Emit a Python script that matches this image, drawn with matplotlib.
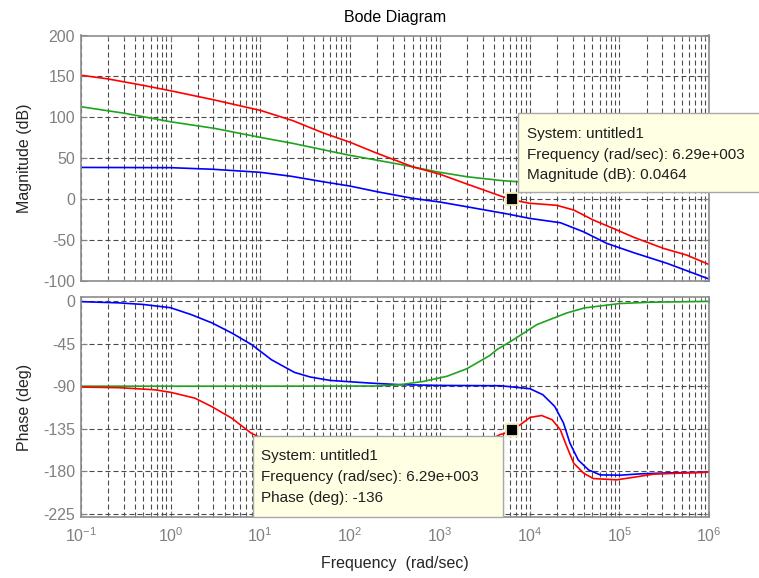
import numpy as np
import matplotlib
matplotlib.use("Agg")
import matplotlib.pyplot as plt
from matplotlib.patches import Rectangle
from matplotlib.ticker import LogLocator, NullFormatter

plt.rcParams["font.family"] = ["Liberation Sans", "DejaVu Sans"]
plt.rcParams["mathtext.default"] = "regular"
plt.rcParams["axes.unicode_minus"] = False

# ---- data (rad/sec, dB, deg) ----
blue_w_mag = [0.1, 1, 3, 10, 22, 50, 100, 200, 500, 1000, 2000, 5600,
              10000, 22000, 40000, 72000, 1.45e5, 3.4e5, 1e6]
blue_mag = [38.8, 38.5, 36.5, 32.8, 28, 21.3, 16, 9.1, 1, -3.5, -9.3, -18,
            -23.5, -28.8, -40, -54, -65.5, -78.5, -97.7]

green_w_mag = [0.1, 0.31, 1, 3.1, 10, 23, 95, 360, 920, 2000, 5100, 7400,
               20000, 1e5, 1e6]
green_mag = [113, 104.9, 94.6, 86.5, 75.5, 68.2, 54, 42.5, 33.5, 27.4, 22.5,
             21.3, 20.5, 20.3, 20.3]

red_w_mag = [0.1, 0.2, 0.5, 1, 3, 10, 23, 50, 100, 200, 500, 1000, 2000,
             5000, 6290, 8000, 10000, 20000, 31000, 51000, 85000, 1.45e5,
             3.1e5, 5.6e5, 1e6]
red_mag = [151.5, 147, 139, 132.5, 121.5, 108.5, 96, 81, 69.5, 56, 39.5,
           30.5, 18.5, 3, 0.0464, -3, -5, -7.5, -13.3, -25.5, -35.7, -46.7,
           -60.2, -68.3, -80]

blue_w_ph = [0.1, 0.27, 0.5, 1.0, 1.7, 2.9, 4.8, 8, 13.3, 24, 36, 60, 166,
             360, 1000, 4700, 10100, 14000, 19000, 23800, 28000, 34700,
             45200, 61000, 1.02e5, 1.7e5, 3.4e5, 1e6]
blue_ph = [-0.6, -1.9, -3.6, -7, -14.3, -23.1, -33.7, -46, -62, -75.4, -80.3,
           -83.9, -86.7, -88.4, -89.2, -89.5, -92.7, -99, -111.4, -129, -150,
           -168, -178.5, -183.8, -184.1, -182.7, -181.7, -180.9]

green_w_ph = [0.1, 10, 200, 360, 650, 1200, 2000, 3600, 4300, 6600, 12000,
              26000, 41000, 1e5, 2.2e5, 1e6]
green_ph = [-90, -90, -89.8, -88.4, -85, -79.5, -71.5, -57.5, -51.4, -40.8,
            -24.9, -12.5, -7.2, -2.6, -1.2, -0.3]

red_w_ph = [0.1, 0.27, 0.67, 1.02, 1.86, 2.86, 4.8, 7.9, 12.6, 20, 32, 63,
            160, 320, 800, 1600, 3200, 4700, 5100, 6290, 7840, 10100, 13600,
            17800, 21900, 25900, 30900, 39800, 51300, 93300, 1.44e5, 2.4e5,
            5.6e5, 1e6]
red_ph = [-90.9, -91.6, -93.8, -96.6, -102.6, -111.4, -123.8, -139.6, -149,
          -161, -169, -174, -177, -178, -172, -161.5, -149.5, -141, -140.4,
          -136, -130.8, -123, -121, -125.5, -136, -153.8, -171.4, -182,
          -187.7, -189, -186.3, -183, -181.7, -180.9]

tip_w = 6290
tip_mag = 0.0464
tip_ph = -136
tip_mag_lines = ["System: untitled1", "Frequency (rad/sec): 6.29e+003",
                 "Magnitude (dB): 0.0464"]
tip_ph_lines = ["System: untitled1", "Frequency (rad/sec): 6.29e+003",
                "Phase (deg): -136"]

mag_ticks = [-100, -50, 0, 50, 100, 150, 200]
ph_ticks = [-225, -180, -135, -90, -45, 0]

# ---- figure ----
W, H = 759, 578
fig = plt.figure(figsize=(W / 100, H / 100), dpi=100)


def box(x0, y0, x1, y1):
    # pixel box (top-left origin) -> figure fraction rect
    return [x0 / W, 1 - y1 / H, (x1 - x0) / W, (y1 - y0) / H]


ax_mag = fig.add_axes(box(80.7, 35.5, 709.3, 281))
ax_ph = fig.add_axes(box(80.7, 297.3, 709.3, 516.7))

ax_mag.plot(blue_w_mag, blue_mag, color="#0000ff", lw=1.2)
ax_mag.plot(green_w_mag, green_mag, color="#1fa31f", lw=1.2)
ax_mag.plot(red_w_mag, red_mag, color="#ff0000", lw=1.2)

ax_ph.plot(blue_w_ph, blue_ph, color="#0000ff", lw=1.2)
ax_ph.plot(green_w_ph, green_ph, color="#1fa31f", lw=1.2)
ax_ph.plot(red_w_ph, red_ph, color="#ff0000", lw=1.2)

grid_kw = dict(color="#4a4a4a", lw=0.8, ls=(0, (4.5, 2.7)))
for ax in (ax_mag, ax_ph):
    ax.set_xscale("log")
    ax.set_xlim(0.1, 1e6)
    ax.xaxis.set_major_locator(LogLocator(base=10, numticks=20))
    ax.xaxis.set_minor_locator(LogLocator(base=10, subs=np.arange(2, 10), numticks=20))
    ax.xaxis.set_minor_formatter(NullFormatter())
    ax.grid(which="both", axis="x", **grid_kw)
    ax.grid(which="major", axis="y", **grid_kw)
    ax.tick_params(which="both", direction="in", top=True, right=True,
                   color="#808080", labelcolor="#808080", labelsize=11.5, pad=4)
    ax.tick_params(which="major", length=4)
    ax.tick_params(which="minor", length=2)
    for sp in ax.spines.values():
        sp.set_color("#8c8c8c")
        sp.set_linewidth(1.2)

ax_mag.set_ylim(-100, 200)
ax_mag.set_yticks(mag_ticks)
ax_mag.tick_params(labelbottom=False)
ax_ph.set_ylim(-228, 4)
ax_ph.set_yticks(ph_ticks)
ax_ph.tick_params(axis="x", pad=7)

ax_mag.set_ylabel("Magnitude (dB)", fontsize=11.5, color="#262626")
ax_ph.set_ylabel("Phase (deg)", fontsize=11.5, color="#262626")
ax_mag.yaxis.set_label_coords(-0.078, 0.5)
ax_ph.yaxis.set_label_coords(-0.078, 0.5)
ax_ph.set_xlabel("Frequency  (rad/sec)", fontsize=11.5, color="#262626")
ax_ph.xaxis.set_label_coords(0.5, -0.18)
ax_mag.set_title("Bode Diagram", fontsize=11.5, color="black", pad=9.5)

# data tip markers
ax_mag.plot([tip_w], [tip_mag], "s", ms=8, mfc="black", mec="#f2ebbe", mew=1.3, zorder=5)
ax_ph.plot([tip_w], [tip_ph], "s", ms=8, mfc="black", mec="#f2ebbe", mew=1.3, zorder=5)


def data_tip(x0, y0, x1, y1, tx, baselines, lines):
    r = box(x0, y0, x1, y1)
    fig.add_artist(Rectangle((r[0], r[1]), r[2], r[3], transform=fig.transFigure,
                             facecolor="#ffffe4", edgecolor="#a8a8a8", lw=1.0,
                             zorder=10))
    for yb, s in zip(baselines, lines):
        fig.text(tx / W, 1 - yb / H, s, fontsize=11, color="#1e1e1e",
                 ha="left", va="baseline", zorder=11)


data_tip(518.3, 113.3, 790, 191.7, 526.7, [138.3, 159.3, 179.3], tip_mag_lines)
data_tip(253.3, 435.7, 502.7, 516.7, 261, [460, 481, 501.7], tip_ph_lines)

fig.savefig("out.png", dpi=100)
